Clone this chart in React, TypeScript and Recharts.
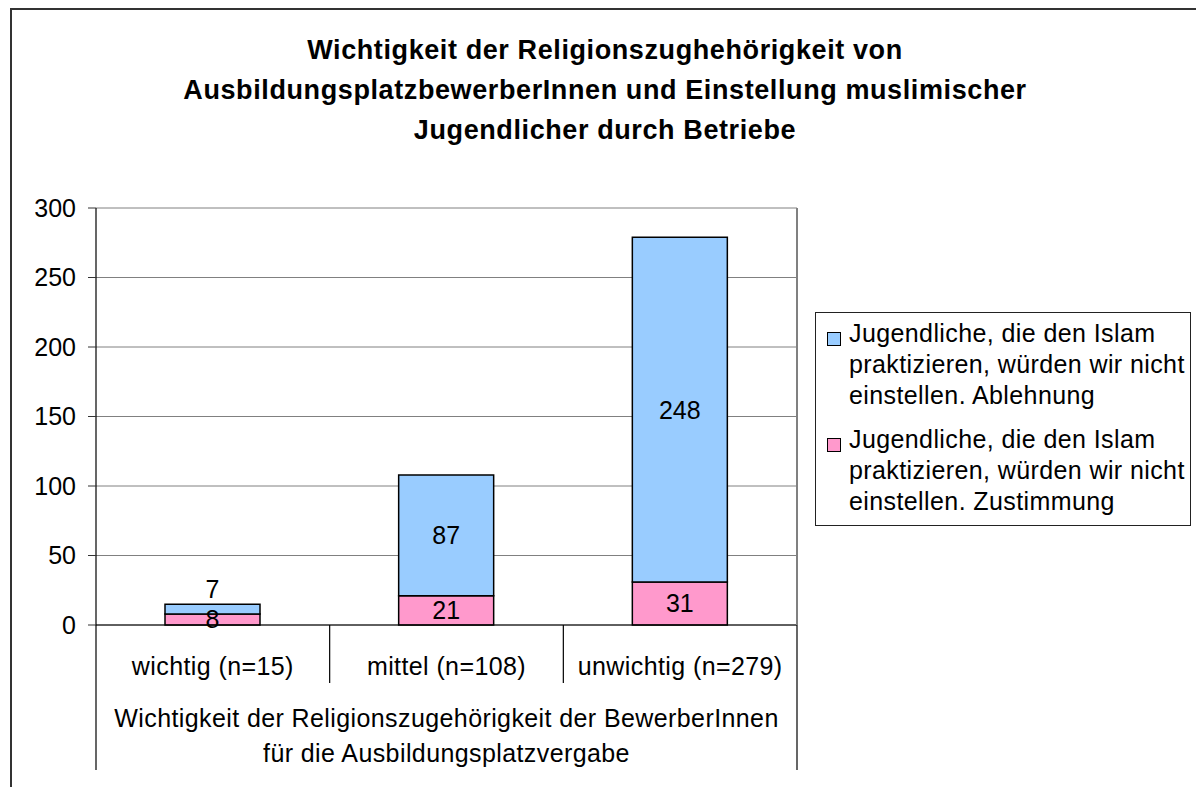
import { BarChart, Bar, XAxis, YAxis, CartesianGrid, LabelList } from 'recharts';

const categories = ['wichtig (n=15)', 'mittel (n=108)', 'unwichtig (n=279)'];
const zustimmung = [8, 21, 31];
const ablehnung = [7, 87, 248];
const yTicks = [0, 50, 100, 150, 200, 250, 300];

const nameAblehnung = 'Jugendliche, die den Islam praktizieren, würden wir nicht einstellen. Ablehnung';
const nameZustimmung = 'Jugendliche, die den Islam praktizieren, würden wir nicht einstellen. Zustimmung';
const titleLines = [
  'Wichtigkeit der Religionszughehörigkeit von',
  'AusbildungsplatzbewerberInnen und Einstellung muslimischer',
  'Jugendlicher durch Betriebe',
];
const groupLabel = ['Wichtigkeit der Religionszugehörigkeit der BewerberInnen', 'für die Ausbildungsplatzvergabe'];

const data = categories.map((c, i) => ({ name: c, zu: zustimmung[i], ab: ablehnung[i] }));

const FONT = '"Liberation Sans", Arial, sans-serif';
const BLUE = '#99CCFF';
const PINK = '#FF99CC';

// layout
const PLOT_LEFT = 96;
const PLOT_RIGHT = 797;
const PLOT_TOP = 208;
const BAND = (PLOT_RIGHT - PLOT_LEFT) / categories.length;

const CatTick = (props: any) => {
  const { x, y, payload, index } = props;
  const n = categories.length;
  const left = x - BAND / 2;
  return (
    <g>
      <text x={x} y={y + 50} textAnchor="middle" fontSize={25} fontFamily={FONT} letterSpacing={0.4} fill="#000">
        {payload.value}
      </text>
      <line x1={left} y1={y} x2={left} y2={y + (index === 0 ? 145 : 58)} stroke="#000" strokeWidth={1.2} />
      {index === n - 1 && (
        <line x1={x + BAND / 2} y1={y} x2={x + BAND / 2} y2={y + 145} stroke="#000" strokeWidth={1.2} />
      )}
      {index === 0 &&
        groupLabel.map((t, i) => (
          <text
            key={i}
            x={x + (BAND * (n - 1)) / 2}
            y={y + 102 + i * 35}
            textAnchor="middle"
            fontSize={25}
            fontFamily={FONT}
            letterSpacing={0.4}
            fill="#000"
          >
            {t}
          </text>
        ))}
    </g>
  );
};

// segment label, centred; a too-thin top segment gets its label above the bar
const SegLabel = (props: any) => {
  const { x, y, width, height, value, top } = props;
  const cy = top && height < 25 ? y - 15 : y + height / 2;
  return (
    <text x={x + width / 2} y={cy} textAnchor="middle" dominantBaseline="central" fontSize={25} fontFamily={FONT} fill="#000">
      {value}
    </text>
  );
};

const legendItems = [
  { name: nameAblehnung, color: BLUE },
  { name: nameZustimmung, color: PINK },
];

const App = () => (
  <div style={{ position: 'absolute', left: 0, top: 0, width: 1196, height: 787, overflow: 'hidden', background: '#fff' }}>
    <div
      style={{
        position: 'absolute',
        left: 10,
        top: 8,
        width: 1250,
        height: 850,
        borderTop: '2px solid #333',
        borderLeft: '2px solid #333',
      }}
    />
    <div
      style={{
        position: 'absolute',
        left: 10,
        top: 30,
        width: 1190,
        textAlign: 'center',
        fontFamily: FONT,
        fontWeight: 'bold',
        fontSize: 27,
        letterSpacing: 0.6,
        lineHeight: '40px',
        color: '#000',
      }}
    >
      {titleLines.map((t, i) => (
        <div key={i}>{t}</div>
      ))}
    </div>
    <div style={{ position: 'absolute', left: 0, top: 0 }}>
      <BarChart
        width={1196}
        height={787}
        data={data}
        margin={{ top: PLOT_TOP, right: 1196 - PLOT_RIGHT - 1, bottom: 17, left: 10 }}
        barSize={95}
      >
        <CartesianGrid vertical={false} stroke="#808080" />
        <XAxis
          dataKey="name"
          interval={0}
          height={145}
          tickSize={0}
          tickMargin={0}
          tickLine={false}
          axisLine={{ stroke: '#000', strokeWidth: 1.2 }}
          tick={(p: any) => <CatTick {...p} />}
        />
        <YAxis
          width={PLOT_LEFT - 10}
          domain={[0, 300]}
          ticks={yTicks}
          interval={0}
          tickSize={8}
          tickMargin={12}
          axisLine={{ stroke: '#000', strokeWidth: 1.2 }}
          tickLine={{ stroke: '#333' }}
          tick={{ fill: '#000', fontSize: 25, fontFamily: FONT }}
        />
        <YAxis yAxisId="right" orientation="right" width={1} domain={[0, 300]} tick={false} tickLine={false} axisLine={{ stroke: '#808080', strokeWidth: 2 }} />
        <Bar dataKey="zu" name={nameZustimmung} stackId="a" fill={PINK} stroke="#000" strokeWidth={1.5} isAnimationActive={false}>
          <LabelList dataKey="zu" content={(p: any) => <SegLabel {...p} />} />
        </Bar>
        <Bar dataKey="ab" name={nameAblehnung} stackId="a" fill={BLUE} stroke="#000" strokeWidth={1.5} isAnimationActive={false}>
          <LabelList dataKey="ab" content={(p: any) => <SegLabel {...p} top />} />
        </Bar>
      </BarChart>
    </div>
    <div
      style={{
        position: 'absolute',
        left: 815,
        top: 312,
        width: 376,
        height: 214,
        boxSizing: 'border-box',
        border: '1.5px solid #222',
        background: '#fff',
        fontFamily: FONT,
        fontSize: 25,
        letterSpacing: 0.4,
        lineHeight: '31px',
        color: '#000',
      }}
    >
      {legendItems.map((it, i) => (
        <div key={i} style={{ position: 'absolute', left: 0, top: 5 + i * 106, width: 376 }}>
          <div
            style={{
              position: 'absolute',
              left: 11,
              top: 14,
              width: 12,
              height: 12,
              background: it.color,
              border: '1px solid #000',
            }}
          />
          <div style={{ marginLeft: 33, width: 342 }}>{it.name}</div>
        </div>
      ))}
    </div>
  </div>
);

export default App;
